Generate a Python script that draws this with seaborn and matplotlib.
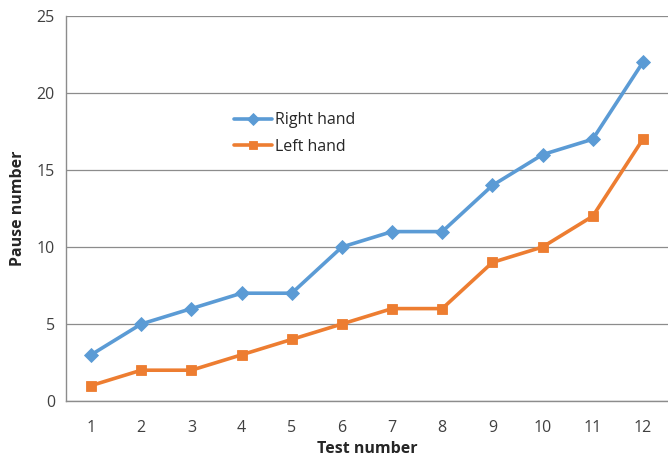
import pandas as pd
import matplotlib.pyplot as plt
import seaborn as sns

# Pause counts per test
tests = [str(i) for i in range(1, 13)]
right_hand = [3, 5, 6, 7, 7, 10, 11, 11, 14, 16, 17, 22]
left_hand = [1, 2, 2, 3, 4, 5, 6, 6, 9, 10, 12, 17]

df = pd.DataFrame({
    'Test': tests * 2,
    'Pauses': right_hand + left_hand,
    'Hand': ['Right hand'] * len(tests) + ['Left hand'] * len(tests),
})

sns.set_style('white')
plt.rcParams['font.family'] = ['Open Sans', 'DejaVu Sans']

fig = plt.figure(figsize=(6.68, 4.59), dpi=100)
ax = fig.add_axes([66 / 668, 58 / 459, 602 / 668, 385 / 459])

palette = {'Right hand': '#5B9BD5', 'Left hand': '#ED7D31'}
markers = {'Right hand': 'D', 'Left hand': 's'}
sns.lineplot(data=df, x='Test', y='Pauses', hue='Hand', style='Hand',
             palette=palette, markers=markers, dashes=False,
             linewidth=2.6, markersize=7, markeredgewidth=0.6, ax=ax)
for line in ax.lines:
    line.set_markeredgecolor(line.get_color())

ax.set_ylim(0, 25)
ax.set_yticks(range(0, 26, 5))
ax.set_xlim(-0.5, 11.35)
ax.set_xticks(range(12))
ax.set_xticks([i - 0.5 for i in range(13)], minor=True)
ax.yaxis.grid(True, color='#8c8c8c', linewidth=0.9)
ax.set_axisbelow(True)

for side in ['top', 'right']:
    ax.spines[side].set_visible(False)
for side in ['left', 'bottom']:
    ax.spines[side].set_color('#8c8c8c')
    ax.spines[side].set_linewidth(1.0)

ax.tick_params(axis='x', which='major', length=0, labelsize=11.5, pad=14, colors='#404040')
ax.tick_params(axis='x', which='minor', length=5, width=1, color='#8c8c8c', direction='out')
ax.tick_params(axis='y', length=5, width=1, color='#8c8c8c', direction='out',
               labelsize=11.5, pad=3, labelcolor='#404040')

ax.set_xlabel('Test number', fontsize=11.5, fontweight='bold', labelpad=3)
ax.set_ylabel('Pause number', fontsize=11.5, fontweight='bold', labelpad=8)

leg = ax.legend(loc='upper left', bbox_to_anchor=(0.255, 0.787), frameon=False,
                fontsize=11.5, handlelength=2.4, handletextpad=0.2, labelspacing=0.65,
                markerscale=0.85, title=None)

plt.savefig('out.png', dpi=100)
